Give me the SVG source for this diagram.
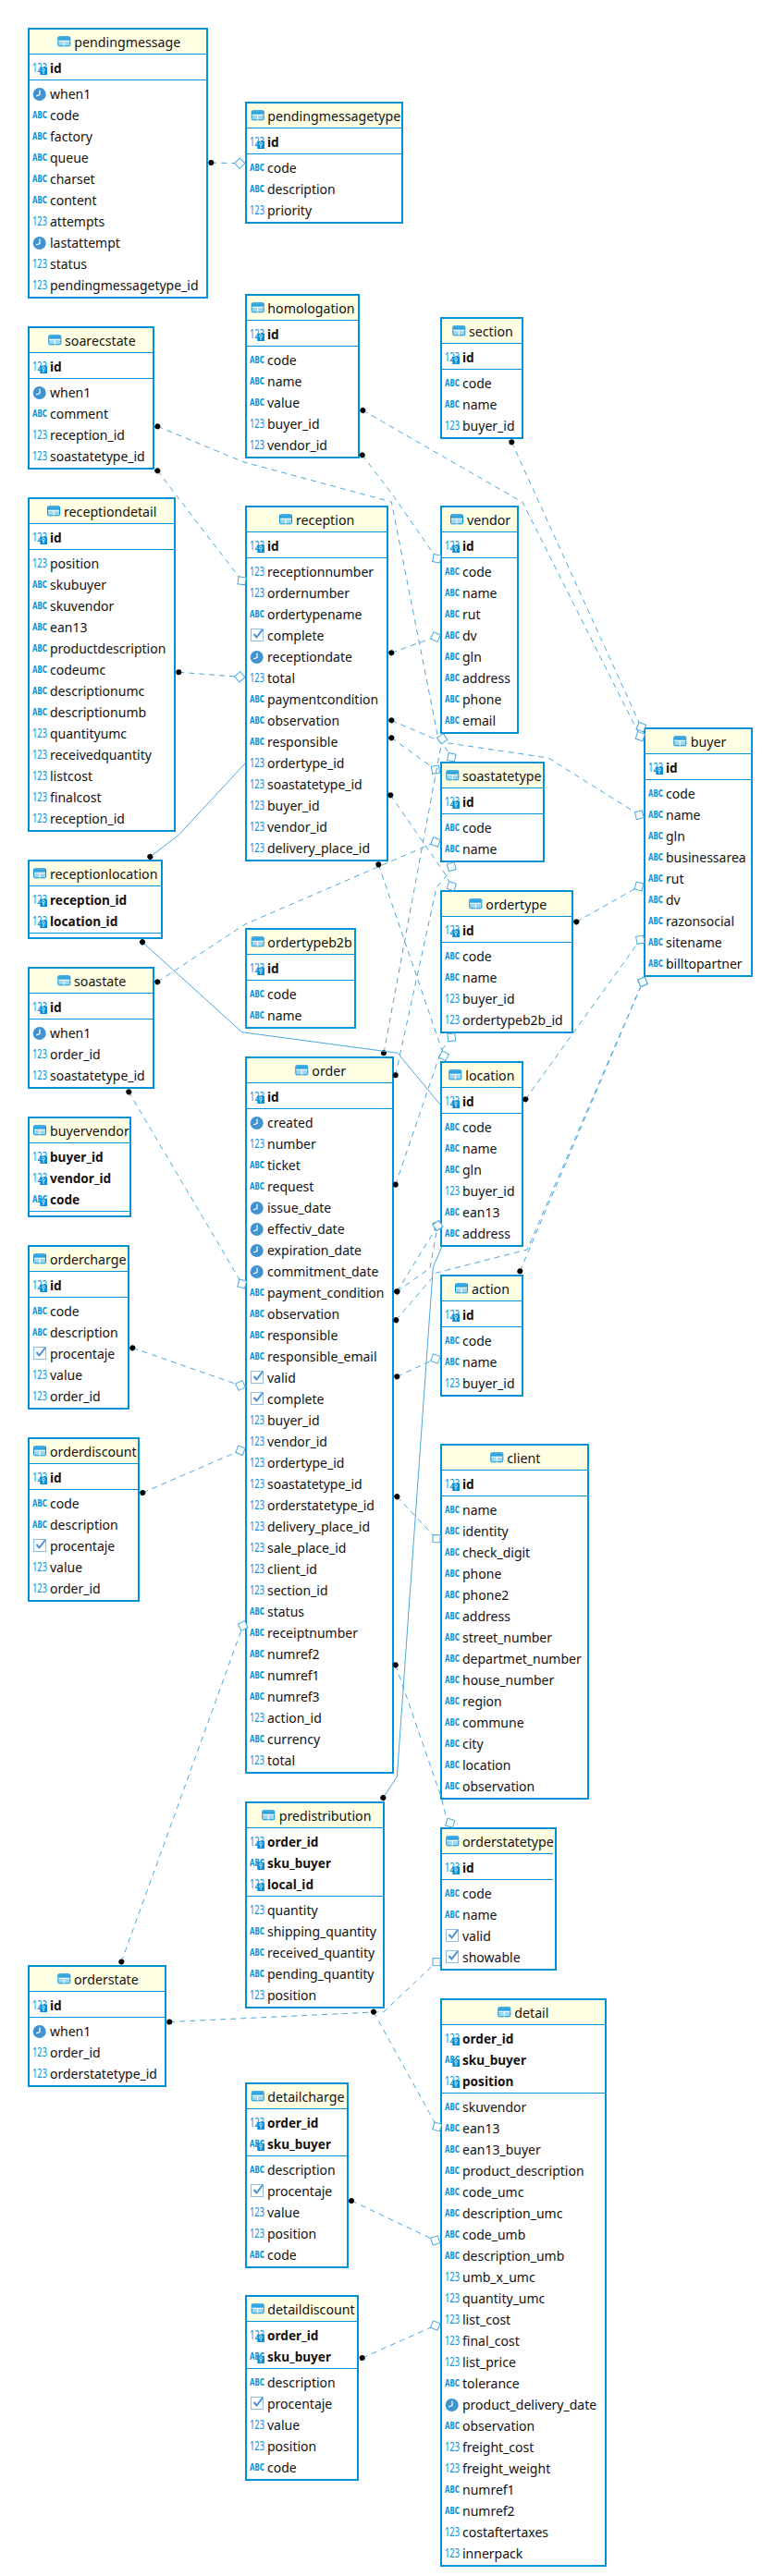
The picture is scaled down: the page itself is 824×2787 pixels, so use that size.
<svg xmlns="http://www.w3.org/2000/svg" width="824" height="2787" viewBox="0 0 824 2787">
<style>
text{font-family:"Noto Sans","Liberation Sans",sans-serif;font-size:14px;fill:#14110f}
.h{font-size:14.2px}
.k{font-weight:700;font-size:13.6px}
.bx{fill:#fff;stroke:#0092d6;stroke-width:2}
.hd{fill:#ffffe3}
.ln{stroke:#0092d6;stroke-width:1;fill:none}
.n{font-size:13.5px;font-weight:400;fill:#0a93d8}
.a{font-family:"DejaVu Sans",sans-serif;font-size:10px;font-weight:700;fill:#0a93d8}
.c{fill:none;stroke:#4aa8dc;stroke-width:1}
.d{stroke-dasharray:6 5}
.dm{marker-start:url(#dot);marker-end:url(#dia)}
.sm{marker-start:url(#dot)}
</style>
<defs>
<marker id="dot" markerUnits="userSpaceOnUse" markerWidth="10" markerHeight="10" refX="5" refY="5" orient="auto"><circle cx="5" cy="5" r="3" fill="#000"/></marker>
<marker id="dia" markerUnits="userSpaceOnUse" markerWidth="16" markerHeight="16" refX="8" refY="8" orient="auto"><polygon points="2.3,8 8,2.3 13.7,8 8,13.7" fill="#fff" stroke="#4aa8dc" stroke-width="1"/></marker>
<g id="n"><text class="n" x="0" y="-1.5" textLength="16" lengthAdjust="spacingAndGlyphs">123</text></g>
<g id="a"><text class="a" x="0" y="-2.5" textLength="16" lengthAdjust="spacingAndGlyphs">ABC</text></g>
<g id="c"><circle cx="7.7" cy="-5" r="7" fill="#3f93d1"/><path d="M8 -9.5V-4.5L4 -3" fill="none" stroke="#fff" stroke-width="1.2"/></g>
<g id="b"><rect x="1.5" y="-12.5" width="13" height="13" fill="#fff" stroke="#8fbde4"/><path d="M4.5 -7L7.5 -3.5L14 -12" fill="none" stroke="#4a8fd6" stroke-width="2"/></g>
<g id="key"><rect x="8.3" y="-6.3" width="7.7" height="8.3" fill="#0a8fd6"/><circle cx="12" cy="-3.5" r="1.4" fill="none" stroke="#fff" stroke-width=".8"/><path d="M12 -2V1" stroke="#fff" stroke-width=".8"/></g>
<g id="kn"><text class="n" x="0" y="-1" textLength="16" lengthAdjust="spacingAndGlyphs">123</text><use href="#key"/></g>
<g id="ka"><text class="a" x="0" y="-2.5" textLength="16" lengthAdjust="spacingAndGlyphs">ABC</text><use href="#key"/></g>
<g id="ti"><rect x=".5" y=".5" width="13" height="10" rx="1" fill="#9fd6f2" stroke="#0a93d8"/><rect x="1" y="1" width="12" height="3.5" fill="#2fa3e0"/><path d="M1 5H13M7 5V10.5" stroke="#fff" stroke-width="1"/></g>
</defs>

<g id="pendingmessage" transform="translate(30,30)"><rect class="bx" x="1" y="1" width="193" height="291"/><rect class="hd" x="2" y="2" width="191" height="26"/><path class="ln" d="M2 28.5H193M2 56.5H193"/><use href="#ti" x="32.3" y="9.3"/><text class="h" x="50.3" y="21">pendingmessage</text><use href="#kn" x="5" y="49"/><text class="k" x="24" y="49">id</text>
<use href="#c" x="5" y="77"/><text x="24" y="77">when1</text><use href="#a" x="5" y="100"/><text x="24" y="100">code</text><use href="#a" x="5" y="123"/><text x="24" y="123">factory</text><use href="#a" x="5" y="146"/><text x="24" y="146">queue</text><use href="#a" x="5" y="169"/><text x="24" y="169">charset</text><use href="#a" x="5" y="192"/><text x="24" y="192">content</text><use href="#n" x="5" y="215"/><text x="24" y="215">attempts</text><use href="#c" x="5" y="238"/><text x="24" y="238">lastattempt</text><use href="#n" x="5" y="261"/><text x="24" y="261">status</text><use href="#n" x="5" y="284"/><text x="24" y="284">pendingmessagetype_id</text></g>

<g id="pendingmessagetype" transform="translate(265,110)"><rect class="bx" x="1" y="1" width="169" height="130"/><rect class="hd" x="2" y="2" width="167" height="26"/><path class="ln" d="M2 28.5H169M2 56.5H169"/><use href="#ti" x="6.7" y="9.3"/><text class="h" x="24.3" y="21">pendingmessagetype</text><use href="#kn" x="5" y="49"/><text class="k" x="24" y="49">id</text>
<use href="#a" x="5" y="77"/><text x="24" y="77">code</text><use href="#a" x="5" y="100"/><text x="24" y="100">description</text><use href="#n" x="5" y="123"/><text x="24" y="123">priority</text></g>

<g id="homologation" transform="translate(265,318)"><rect class="bx" x="1" y="1" width="122" height="176"/><rect class="hd" x="2" y="2" width="120" height="26"/><path class="ln" d="M2 28.5H122M2 56.5H122"/><use href="#ti" x="6.7" y="9.3"/><text class="h" x="24.3" y="21">homologation</text><use href="#kn" x="5" y="49"/><text class="k" x="24" y="49">id</text>
<use href="#a" x="5" y="77"/><text x="24" y="77">code</text><use href="#a" x="5" y="100"/><text x="24" y="100">name</text><use href="#a" x="5" y="123"/><text x="24" y="123">value</text><use href="#n" x="5" y="146"/><text x="24" y="146">buyer_id</text><use href="#n" x="5" y="169"/><text x="24" y="169">vendor_id</text></g>

<g id="section" transform="translate(476,343)"><rect class="bx" x="1" y="1" width="88" height="130"/><rect class="hd" x="2" y="2" width="86" height="26"/><path class="ln" d="M2 28.5H88M2 56.5H88"/><use href="#ti" x="13.3" y="9.3"/><text class="h" x="31" y="21">section</text><use href="#kn" x="5" y="49"/><text class="k" x="24" y="49">id</text>
<use href="#a" x="5" y="77"/><text x="24" y="77">code</text><use href="#a" x="5" y="100"/><text x="24" y="100">name</text><use href="#n" x="5" y="123"/><text x="24" y="123">buyer_id</text></g>

<g id="soarecstate" transform="translate(30,353)"><rect class="bx" x="1" y="1" width="135" height="153"/><rect class="hd" x="2" y="2" width="133" height="26"/><path class="ln" d="M2 28.5H135M2 56.5H135"/><use href="#ti" x="22.3" y="9.3"/><text class="h" x="40" y="21">soarecstate</text><use href="#kn" x="5" y="49"/><text class="k" x="24" y="49">id</text>
<use href="#c" x="5" y="77"/><text x="24" y="77">when1</text><use href="#a" x="5" y="100"/><text x="24" y="100">comment</text><use href="#n" x="5" y="123"/><text x="24" y="123">reception_id</text><use href="#n" x="5" y="146"/><text x="24" y="146">soastatetype_id</text></g>

<g id="receptiondetail" transform="translate(30,538)"><rect class="bx" x="1" y="1" width="158" height="360"/><rect class="hd" x="2" y="2" width="156" height="26"/><path class="ln" d="M2 28.5H158M2 56.5H158"/><use href="#ti" x="21" y="9.3"/><text class="h" x="39" y="21">receptiondetail</text><use href="#kn" x="5" y="49"/><text class="k" x="24" y="49">id</text>
<use href="#n" x="5" y="77"/><text x="24" y="77">position</text><use href="#a" x="5" y="100"/><text x="24" y="100">skubuyer</text><use href="#a" x="5" y="123"/><text x="24" y="123">skuvendor</text><use href="#a" x="5" y="146"/><text x="24" y="146">ean13</text><use href="#a" x="5" y="169"/><text x="24" y="169">productdescription</text><use href="#a" x="5" y="192"/><text x="24" y="192">codeumc</text><use href="#a" x="5" y="215"/><text x="24" y="215">descriptionumc</text><use href="#a" x="5" y="238"/><text x="24" y="238">descriptionumb</text><use href="#n" x="5" y="261"/><text x="24" y="261">quantityumc</text><use href="#n" x="5" y="284"/><text x="24" y="284">receivedquantity</text><use href="#n" x="5" y="307"/><text x="24" y="307">listcost</text><use href="#n" x="5" y="330"/><text x="24" y="330">finalcost</text><use href="#n" x="5" y="353"/><text x="24" y="353">reception_id</text></g>

<g id="reception" transform="translate(265,547)"><rect class="bx" x="1" y="1" width="153" height="383"/><rect class="hd" x="2" y="2" width="151" height="26"/><path class="ln" d="M2 28.5H153M2 56.5H153"/><use href="#ti" x="37" y="9.3"/><text class="h" x="55" y="21">reception</text><use href="#kn" x="5" y="49"/><text class="k" x="24" y="49">id</text>
<use href="#n" x="5" y="77"/><text x="24" y="77">receptionnumber</text><use href="#n" x="5" y="100"/><text x="24" y="100">ordernumber</text><use href="#a" x="5" y="123"/><text x="24" y="123">ordertypename</text><use href="#b" x="5" y="146"/><text x="24" y="146">complete</text><use href="#c" x="5" y="169"/><text x="24" y="169">receptiondate</text><use href="#n" x="5" y="192"/><text x="24" y="192">total</text><use href="#a" x="5" y="215"/><text x="24" y="215">paymentcondition</text><use href="#a" x="5" y="238"/><text x="24" y="238">observation</text><use href="#a" x="5" y="261"/><text x="24" y="261">responsible</text><use href="#n" x="5" y="284"/><text x="24" y="284">ordertype_id</text><use href="#n" x="5" y="307"/><text x="24" y="307">soastatetype_id</text><use href="#n" x="5" y="330"/><text x="24" y="330">buyer_id</text><use href="#n" x="5" y="353"/><text x="24" y="353">vendor_id</text><use href="#n" x="5" y="376"/><text x="24" y="376">delivery_place_id</text></g>

<g id="vendor" transform="translate(476,547)"><rect class="bx" x="1" y="1" width="83" height="245"/><rect class="hd" x="2" y="2" width="81" height="26"/><path class="ln" d="M2 28.5H83M2 56.5H83"/><use href="#ti" x="11" y="9.3"/><text class="h" x="29" y="21">vendor</text><use href="#kn" x="5" y="49"/><text class="k" x="24" y="49">id</text>
<use href="#a" x="5" y="77"/><text x="24" y="77">code</text><use href="#a" x="5" y="100"/><text x="24" y="100">name</text><use href="#a" x="5" y="123"/><text x="24" y="123">rut</text><use href="#a" x="5" y="146"/><text x="24" y="146">dv</text><use href="#a" x="5" y="169"/><text x="24" y="169">gln</text><use href="#a" x="5" y="192"/><text x="24" y="192">address</text><use href="#a" x="5" y="215"/><text x="24" y="215">phone</text><use href="#a" x="5" y="238"/><text x="24" y="238">email</text></g>

<g id="buyer" transform="translate(696,787)"><rect class="bx" x="1" y="1" width="116" height="268"/><rect class="hd" x="2" y="2" width="114" height="26"/><path class="ln" d="M2 28.5H116M2 56.5H116"/><use href="#ti" x="32.3" y="9.3"/><text class="h" x="50.7" y="21">buyer</text><use href="#kn" x="5" y="49"/><text class="k" x="24" y="49">id</text>
<use href="#a" x="5" y="77"/><text x="24" y="77">code</text><use href="#a" x="5" y="100"/><text x="24" y="100">name</text><use href="#a" x="5" y="123"/><text x="24" y="123">gln</text><use href="#a" x="5" y="146"/><text x="24" y="146">businessarea</text><use href="#a" x="5" y="169"/><text x="24" y="169">rut</text><use href="#a" x="5" y="192"/><text x="24" y="192">dv</text><use href="#a" x="5" y="215"/><text x="24" y="215">razonsocial</text><use href="#a" x="5" y="238"/><text x="24" y="238">sitename</text><use href="#a" x="5" y="261"/><text x="24" y="261">billtopartner</text></g>

<g id="soastatetype" transform="translate(476,824)"><rect class="bx" x="1" y="1" width="111" height="107"/><rect class="hd" x="2" y="2" width="109" height="26"/><path class="ln" d="M2 28.5H111M2 56.5H111"/><use href="#ti" x="6.3" y="9.3"/><text class="h" x="24" y="21">soastatetype</text><use href="#kn" x="5" y="49"/><text class="k" x="24" y="49">id</text>
<use href="#a" x="5" y="77"/><text x="24" y="77">code</text><use href="#a" x="5" y="100"/><text x="24" y="100">name</text></g>

<g id="receptionlocation" transform="translate(30,930)"><rect class="bx" x="1" y="1" width="144" height="84"/><rect class="hd" x="2" y="2" width="142" height="26"/><path class="ln" d="M2 28.5H144M2 79.5H144"/><use href="#ti" x="6" y="9.3"/><text class="h" x="24" y="21">receptionlocation</text><use href="#kn" x="5" y="49"/><text class="k" x="24" y="49">reception_id</text><use href="#kn" x="5" y="72"/><text class="k" x="24" y="72">location_id</text></g>

<g id="ordertype" transform="translate(476,963)"><rect class="bx" x="1" y="1" width="142" height="153"/><rect class="hd" x="2" y="2" width="140" height="26"/><path class="ln" d="M2 28.5H142M2 56.5H142"/><use href="#ti" x="31.3" y="9.3"/><text class="h" x="49.3" y="21">ordertype</text><use href="#kn" x="5" y="49"/><text class="k" x="24" y="49">id</text>
<use href="#a" x="5" y="77"/><text x="24" y="77">code</text><use href="#a" x="5" y="100"/><text x="24" y="100">name</text><use href="#n" x="5" y="123"/><text x="24" y="123">buyer_id</text><use href="#n" x="5" y="146"/><text x="24" y="146">ordertypeb2b_id</text></g>

<g id="ordertypeb2b" transform="translate(265,1004)"><rect class="bx" x="1" y="1" width="118" height="107"/><rect class="hd" x="2" y="2" width="116" height="26"/><path class="ln" d="M2 28.5H118M2 56.5H118"/><use href="#ti" x="6.7" y="9.3"/><text class="h" x="24.3" y="21">ordertypeb2b</text><use href="#kn" x="5" y="49"/><text class="k" x="24" y="49">id</text>
<use href="#a" x="5" y="77"/><text x="24" y="77">code</text><use href="#a" x="5" y="100"/><text x="24" y="100">name</text></g>

<g id="soastate" transform="translate(30,1046)"><rect class="bx" x="1" y="1" width="135" height="130"/><rect class="hd" x="2" y="2" width="133" height="26"/><path class="ln" d="M2 28.5H135M2 56.5H135"/><use href="#ti" x="32.3" y="9.3"/><text class="h" x="50" y="21">soastate</text><use href="#kn" x="5" y="49"/><text class="k" x="24" y="49">id</text>
<use href="#c" x="5" y="77"/><text x="24" y="77">when1</text><use href="#n" x="5" y="100"/><text x="24" y="100">order_id</text><use href="#n" x="5" y="123"/><text x="24" y="123">soastatetype_id</text></g>

<g id="order" transform="translate(265,1143)"><rect class="bx" x="1" y="1" width="159" height="774"/><rect class="hd" x="2" y="2" width="157" height="26"/><path class="ln" d="M2 28.5H159M2 56.5H159"/><use href="#ti" x="54.3" y="9.3"/><text class="h" x="72.3" y="21">order</text><use href="#kn" x="5" y="49"/><text class="k" x="24" y="49">id</text>
<use href="#c" x="5" y="77"/><text x="24" y="77">created</text><use href="#n" x="5" y="100"/><text x="24" y="100">number</text><use href="#a" x="5" y="123"/><text x="24" y="123">ticket</text><use href="#a" x="5" y="146"/><text x="24" y="146">request</text><use href="#c" x="5" y="169"/><text x="24" y="169">issue_date</text><use href="#c" x="5" y="192"/><text x="24" y="192">effectiv_date</text><use href="#c" x="5" y="215"/><text x="24" y="215">expiration_date</text><use href="#c" x="5" y="238"/><text x="24" y="238">commitment_date</text><use href="#a" x="5" y="261"/><text x="24" y="261">payment_condition</text><use href="#a" x="5" y="284"/><text x="24" y="284">observation</text><use href="#a" x="5" y="307"/><text x="24" y="307">responsible</text><use href="#a" x="5" y="330"/><text x="24" y="330">responsible_email</text><use href="#b" x="5" y="353"/><text x="24" y="353">valid</text><use href="#b" x="5" y="376"/><text x="24" y="376">complete</text><use href="#n" x="5" y="399"/><text x="24" y="399">buyer_id</text><use href="#n" x="5" y="422"/><text x="24" y="422">vendor_id</text><use href="#n" x="5" y="445"/><text x="24" y="445">ordertype_id</text><use href="#n" x="5" y="468"/><text x="24" y="468">soastatetype_id</text><use href="#n" x="5" y="491"/><text x="24" y="491">orderstatetype_id</text><use href="#n" x="5" y="514"/><text x="24" y="514">delivery_place_id</text><use href="#n" x="5" y="537"/><text x="24" y="537">sale_place_id</text><use href="#n" x="5" y="560"/><text x="24" y="560">client_id</text><use href="#n" x="5" y="583"/><text x="24" y="583">section_id</text><use href="#a" x="5" y="606"/><text x="24" y="606">status</text><use href="#a" x="5" y="629"/><text x="24" y="629">receiptnumber</text><use href="#a" x="5" y="652"/><text x="24" y="652">numref2</text><use href="#a" x="5" y="675"/><text x="24" y="675">numref1</text><use href="#a" x="5" y="698"/><text x="24" y="698">numref3</text><use href="#n" x="5" y="721"/><text x="24" y="721">action_id</text><use href="#a" x="5" y="744"/><text x="24" y="744">currency</text><use href="#n" x="5" y="767"/><text x="24" y="767">total</text></g>

<g id="location" transform="translate(476,1148)"><rect class="bx" x="1" y="1" width="88" height="199"/><rect class="hd" x="2" y="2" width="86" height="26"/><path class="ln" d="M2 28.5H88M2 56.5H88"/><use href="#ti" x="9.3" y="9.3"/><text class="h" x="27.3" y="21">location</text><use href="#kn" x="5" y="49"/><text class="k" x="24" y="49">id</text>
<use href="#a" x="5" y="77"/><text x="24" y="77">code</text><use href="#a" x="5" y="100"/><text x="24" y="100">name</text><use href="#a" x="5" y="123"/><text x="24" y="123">gln</text><use href="#n" x="5" y="146"/><text x="24" y="146">buyer_id</text><use href="#a" x="5" y="169"/><text x="24" y="169">ean13</text><use href="#a" x="5" y="192"/><text x="24" y="192">address</text></g>

<g id="buyervendor" transform="translate(30,1208)"><rect class="bx" x="1" y="1" width="110" height="107"/><rect class="hd" x="2" y="2" width="108" height="26"/><path class="ln" d="M2 28.5H110M2 102.5H110"/><use href="#ti" x="6" y="9.3"/><text class="h" x="24" y="21">buyervendor</text><use href="#kn" x="5" y="49"/><text class="k" x="24" y="49">buyer_id</text><use href="#kn" x="5" y="72"/><text class="k" x="24" y="72">vendor_id</text><use href="#ka" x="5" y="95"/><text class="k" x="24" y="95">code</text></g>

<g id="ordercharge" transform="translate(30,1347)"><rect class="bx" x="1" y="1" width="108" height="176"/><rect class="hd" x="2" y="2" width="106" height="26"/><path class="ln" d="M2 28.5H108M2 56.5H108"/><use href="#ti" x="6" y="9.3"/><text class="h" x="24" y="21">ordercharge</text><use href="#kn" x="5" y="49"/><text class="k" x="24" y="49">id</text>
<use href="#a" x="5" y="77"/><text x="24" y="77">code</text><use href="#a" x="5" y="100"/><text x="24" y="100">description</text><use href="#b" x="5" y="123"/><text x="24" y="123">procentaje</text><use href="#n" x="5" y="146"/><text x="24" y="146">value</text><use href="#n" x="5" y="169"/><text x="24" y="169">order_id</text></g>

<g id="action" transform="translate(476,1379)"><rect class="bx" x="1" y="1" width="88" height="130"/><rect class="hd" x="2" y="2" width="86" height="26"/><path class="ln" d="M2 28.5H88M2 56.5H88"/><use href="#ti" x="16" y="9.3"/><text class="h" x="34" y="21">action</text><use href="#kn" x="5" y="49"/><text class="k" x="24" y="49">id</text>
<use href="#a" x="5" y="77"/><text x="24" y="77">code</text><use href="#a" x="5" y="100"/><text x="24" y="100">name</text><use href="#n" x="5" y="123"/><text x="24" y="123">buyer_id</text></g>

<g id="orderdiscount" transform="translate(30,1555)"><rect class="bx" x="1" y="1" width="119" height="176"/><rect class="hd" x="2" y="2" width="117" height="26"/><path class="ln" d="M2 28.5H119M2 56.5H119"/><use href="#ti" x="6" y="9.3"/><text class="h" x="24" y="21">orderdiscount</text><use href="#kn" x="5" y="49"/><text class="k" x="24" y="49">id</text>
<use href="#a" x="5" y="77"/><text x="24" y="77">code</text><use href="#a" x="5" y="100"/><text x="24" y="100">description</text><use href="#b" x="5" y="123"/><text x="24" y="123">procentaje</text><use href="#n" x="5" y="146"/><text x="24" y="146">value</text><use href="#n" x="5" y="169"/><text x="24" y="169">order_id</text></g>

<g id="client" transform="translate(476,1562)"><rect class="bx" x="1" y="1" width="159" height="383"/><rect class="hd" x="2" y="2" width="157" height="26"/><path class="ln" d="M2 28.5H159M2 56.5H159"/><use href="#ti" x="54.3" y="9.3"/><text class="h" x="72.3" y="21">client</text><use href="#kn" x="5" y="49"/><text class="k" x="24" y="49">id</text>
<use href="#a" x="5" y="77"/><text x="24" y="77">name</text><use href="#a" x="5" y="100"/><text x="24" y="100">identity</text><use href="#a" x="5" y="123"/><text x="24" y="123">check_digit</text><use href="#a" x="5" y="146"/><text x="24" y="146">phone</text><use href="#a" x="5" y="169"/><text x="24" y="169">phone2</text><use href="#a" x="5" y="192"/><text x="24" y="192">address</text><use href="#a" x="5" y="215"/><text x="24" y="215">street_number</text><use href="#a" x="5" y="238"/><text x="24" y="238">departmet_number</text><use href="#a" x="5" y="261"/><text x="24" y="261">house_number</text><use href="#a" x="5" y="284"/><text x="24" y="284">region</text><use href="#a" x="5" y="307"/><text x="24" y="307">commune</text><use href="#a" x="5" y="330"/><text x="24" y="330">city</text><use href="#a" x="5" y="353"/><text x="24" y="353">location</text><use href="#a" x="5" y="376"/><text x="24" y="376">observation</text></g>

<g id="predistribution" transform="translate(265,1949)"><rect class="bx" x="1" y="1" width="149" height="222"/><rect class="hd" x="2" y="2" width="147" height="26"/><path class="ln" d="M2 28.5H149M2 102.5H149"/><use href="#ti" x="18.3" y="9.3"/><text class="h" x="36.7" y="21">predistribution</text><use href="#kn" x="5" y="49"/><text class="k" x="24" y="49">order_id</text><use href="#ka" x="5" y="72"/><text class="k" x="24" y="72">sku_buyer</text><use href="#kn" x="5" y="95"/><text class="k" x="24" y="95">local_id</text>
<use href="#n" x="5" y="123"/><text x="24" y="123">quantity</text><use href="#a" x="5" y="146"/><text x="24" y="146">shipping_quantity</text><use href="#a" x="5" y="169"/><text x="24" y="169">received_quantity</text><use href="#a" x="5" y="192"/><text x="24" y="192">pending_quantity</text><use href="#n" x="5" y="215"/><text x="24" y="215">position</text></g>

<g id="orderstatetype" transform="translate(476,1977)"><rect class="bx" x="1" y="1" width="124" height="153"/><rect class="hd" x="2" y="2" width="122" height="26"/><path class="ln" d="M2 28.5H122M2 56.5H122"/><use href="#ti" x="6.3" y="9.3"/><text class="h" x="24" y="21">orderstatetype</text><use href="#kn" x="5" y="49"/><text class="k" x="24" y="49">id</text>
<use href="#a" x="5" y="77"/><text x="24" y="77">code</text><use href="#a" x="5" y="100"/><text x="24" y="100">name</text><use href="#b" x="5" y="123"/><text x="24" y="123">valid</text><use href="#b" x="5" y="146"/><text x="24" y="146">showable</text></g>

<g id="orderstate" transform="translate(30,2126)"><rect class="bx" x="1" y="1" width="148" height="130"/><rect class="hd" x="2" y="2" width="146" height="26"/><path class="ln" d="M2 28.5H148M2 56.5H148"/><use href="#ti" x="32.3" y="9.3"/><text class="h" x="50" y="21">orderstate</text><use href="#kn" x="5" y="49"/><text class="k" x="24" y="49">id</text>
<use href="#c" x="5" y="77"/><text x="24" y="77">when1</text><use href="#n" x="5" y="100"/><text x="24" y="100">order_id</text><use href="#n" x="5" y="123"/><text x="24" y="123">orderstatetype_id</text></g>

<g id="detail" transform="translate(476,2162)"><rect class="bx" x="1" y="1" width="178" height="613"/><rect class="hd" x="2" y="2" width="176" height="26"/><path class="ln" d="M2 28.5H178M2 102.5H178"/><use href="#ti" x="62.3" y="9.3"/><text class="h" x="80.3" y="21">detail</text><use href="#kn" x="5" y="49"/><text class="k" x="24" y="49">order_id</text><use href="#ka" x="5" y="72"/><text class="k" x="24" y="72">sku_buyer</text><use href="#kn" x="5" y="95"/><text class="k" x="24" y="95">position</text>
<use href="#a" x="5" y="123"/><text x="24" y="123">skuvendor</text><use href="#a" x="5" y="146"/><text x="24" y="146">ean13</text><use href="#a" x="5" y="169"/><text x="24" y="169">ean13_buyer</text><use href="#a" x="5" y="192"/><text x="24" y="192">product_description</text><use href="#a" x="5" y="215"/><text x="24" y="215">code_umc</text><use href="#a" x="5" y="238"/><text x="24" y="238">description_umc</text><use href="#a" x="5" y="261"/><text x="24" y="261">code_umb</text><use href="#a" x="5" y="284"/><text x="24" y="284">description_umb</text><use href="#n" x="5" y="307"/><text x="24" y="307">umb_x_umc</text><use href="#n" x="5" y="330"/><text x="24" y="330">quantity_umc</text><use href="#n" x="5" y="353"/><text x="24" y="353">list_cost</text><use href="#n" x="5" y="376"/><text x="24" y="376">final_cost</text><use href="#n" x="5" y="399"/><text x="24" y="399">list_price</text><use href="#a" x="5" y="422"/><text x="24" y="422">tolerance</text><use href="#c" x="5" y="445"/><text x="24" y="445">product_delivery_date</text><use href="#a" x="5" y="468"/><text x="24" y="468">observation</text><use href="#n" x="5" y="491"/><text x="24" y="491">freight_cost</text><use href="#n" x="5" y="514"/><text x="24" y="514">freight_weight</text><use href="#a" x="5" y="537"/><text x="24" y="537">numref1</text><use href="#a" x="5" y="560"/><text x="24" y="560">numref2</text><use href="#n" x="5" y="583"/><text x="24" y="583">costaftertaxes</text><use href="#n" x="5" y="606"/><text x="24" y="606">innerpack</text></g>

<g id="detailcharge" transform="translate(265,2253)"><rect class="bx" x="1" y="1" width="110" height="199"/><rect class="hd" x="2" y="2" width="108" height="26"/><path class="ln" d="M2 28.5H110M2 79.5H110"/><use href="#ti" x="6.7" y="9.3"/><text class="h" x="24.3" y="21">detailcharge</text><use href="#kn" x="5" y="49"/><text class="k" x="24" y="49">order_id</text><use href="#ka" x="5" y="72"/><text class="k" x="24" y="72">sku_buyer</text>
<use href="#a" x="5" y="100"/><text x="24" y="100">description</text><use href="#b" x="5" y="123"/><text x="24" y="123">procentaje</text><use href="#n" x="5" y="146"/><text x="24" y="146">value</text><use href="#n" x="5" y="169"/><text x="24" y="169">position</text><use href="#a" x="5" y="192"/><text x="24" y="192">code</text></g>

<g id="detaildiscount" transform="translate(265,2483)"><rect class="bx" x="1" y="1" width="121" height="199"/><rect class="hd" x="2" y="2" width="119" height="26"/><path class="ln" d="M2 28.5H121M2 79.5H121"/><use href="#ti" x="6.7" y="9.3"/><text class="h" x="24.3" y="21">detaildiscount</text><use href="#kn" x="5" y="49"/><text class="k" x="24" y="49">order_id</text><use href="#ka" x="5" y="72"/><text class="k" x="24" y="72">sku_buyer</text>
<use href="#a" x="5" y="100"/><text x="24" y="100">description</text><use href="#b" x="5" y="123"/><text x="24" y="123">procentaje</text><use href="#n" x="5" y="146"/><text x="24" y="146">value</text><use href="#n" x="5" y="169"/><text x="24" y="169">position</text><use href="#a" x="5" y="192"/><text x="24" y="192">code</text></g>

<g id="connectors">
<path class="c d dm" d="M228.3 176L259.3 176.7"/>
<path class="c d dm" d="M170.3 461.3L263 499.7L423.3 543L473.5 797L488.3 819.3"/>
<path class="c d dm" d="M170.3 509.3L261.5 628.3"/>
<path class="c d dm" d="M193.3 727.3L259.3 732.3"/>
<path class="c d dm" d="M423.3 706.3L471 689"/>
<path class="c d dm" d="M423.3 779.3L478 803L593 820L691.3 881.7"/>
<path class="c d dm" d="M423.3 798.3L471 832.7"/>
<path class="c d dm" d="M422.3 860.3L481 945L488.3 958.7"/>
<path class="c d dm" d="M170.3 1062.3L265 1000L471 911"/>
<path class="c d dm" d="M409.3 935.3L480 1142.3"/>
<path class="c d dm" d="M415 1139.3L478.3 799.3"/>
<path class="c d dm" d="M427.7 1163.3L472 960L481.7 949L488.3 937.7"/>
<path class="c d dm" d="M427.7 1281.7L477 1137L488.3 1122.3"/>
<path class="c d dm" d="M392.3 444L565 543.3L692.3 796.7"/>
<path class="c d dm" d="M391.7 492.3L426.7 538.3L472.3 604.3"/>
<path class="c d dm" d="M553.3 478.3L693.3 786.7"/>
<path class="c d dm" d="M623.3 997.3L691 959"/>
<path class="c d dm" d="M568.3 1189.3L692.3 1016.7"/>
<path class="c d dm" d="M562.3 1375.3L695 1062.3"/>
<path class="c d dm" d="M428.3 1428.3L472 1377L570 1352L695 1062.3"/>
<path class="c d dm" d="M429.3 1397.3L473.3 1326"/>
<path class="c d dm" d="M429.3 1397.3L465 1372L473.3 1326"/>
<path class="c d dm" d="M429.3 1489.3L471 1470"/>
<path class="c d dm" d="M429.3 1619.3L472 1664.7"/>
<path class="c d dm" d="M427.7 1801.3L476.7 1943L481.7 1963L486.7 1972.3"/>
<path class="c d dm" d="M131.3 2122.5L262.7 1759"/>
<path class="c d dm" d="M183.3 2187.5L415 2176.5L472 2122.7"/>
<path class="c d dm" d="M404 2176.7L472.7 2301"/>
<path class="c d dm" d="M380 2381L470.7 2424"/>
<path class="c d dm" d="M391.7 2551L470.7 2516"/>
<path class="c d dm" d="M139.3 1181.3L261.7 1389"/>
<path class="c d dm" d="M143.3 1458.3L260 1499"/>
<path class="c d dm" d="M154.3 1615L260 1569.3"/>
<path class="c sm" d="M162.3 927L193.3 903.3L265 826"/>
<path class="c sm" d="M154 1019.3L261.7 1116.7L430 1139.3L476 1195"/>
<path class="c sm" d="M414.3 1945L429.3 1922.3L468.3 1371L477.7 1349"/>
</g>
</svg>
